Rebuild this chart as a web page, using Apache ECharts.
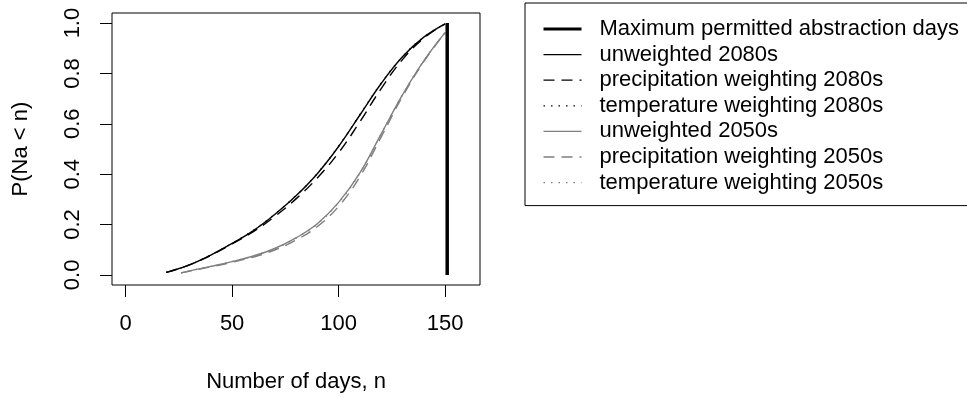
<!DOCTYPE html>
<html><head><meta charset="utf-8">
<script src="https://cdn.jsdelivr.net/npm/echarts@6/dist/echarts.min.js"></script>
<style>html,body{margin:0;padding:0;background:#fff}#c{width:967px;height:398px}</style>
</head><body><div id="c"></div>
<script>
// ---- data ----
const xTicks = [0, 50, 100, 150];
const yTicks = [0, 0.2, 0.4, 0.6, 0.8, 1.0];
const maxDays = 151;
const maxLine = [0, 1];

const days2080 = [19, 20, 30, 40, 50, 60, 70, 80, 90, 100, 110, 120, 130, 140, 150];
const unweighted2080 = [0.010, 0.012, 0.040, 0.079, 0.125, 0.176, 0.240, 0.314, 0.402, 0.510, 0.635, 0.760, 0.866, 0.944, 0.997];
const precip2080 =     [0.010, 0.012, 0.040, 0.078, 0.123, 0.172, 0.232, 0.302, 0.385, 0.485, 0.608, 0.740, 0.855, 0.940, 0.997];
const temp2080 =       [0.010, 0.012, 0.040, 0.079, 0.126, 0.177, 0.241, 0.315, 0.403, 0.511, 0.636, 0.761, 0.866, 0.944, 0.997];

const days2050 = [26, 30, 40, 50, 60, 70, 80, 90, 100, 110, 120, 130, 140, 150];
const unweighted2050 = [0.008, 0.016, 0.034, 0.053, 0.075, 0.105, 0.147, 0.203, 0.288, 0.405, 0.560, 0.715, 0.850, 0.962];
const precip2050 =     [0.008, 0.015, 0.032, 0.050, 0.071, 0.099, 0.138, 0.192, 0.272, 0.390, 0.548, 0.708, 0.847, 0.962];
const temp2050 =       [0.008, 0.016, 0.034, 0.053, 0.075, 0.104, 0.146, 0.202, 0.287, 0.404, 0.560, 0.715, 0.850, 0.962];

const names = [
  'Maximum permitted abstraction days',
  'unweighted 2080s', 'precipitation weighting 2080s', 'temperature weighting 2080s',
  'unweighted 2050s', 'precipitation weighting 2050s', 'temperature weighting 2050s'
];

// ---- build ----
const FONT = 'Liberation Sans, Arial, Helvetica, sans-serif';
const FS = 22;
const BLACK = '#000000', GRAY = '#7f7f7f';
const DASH = [11, 7], DOT = [1.5, 6];
const pair = (xs, ys) => xs.map((x, i) => [x, ys[i]]);
const curve = (name, xs, ys, color, type) => ({
  name, type: 'line', data: pair(xs, ys), showSymbol: false, symbol: 'none',
  smooth: 0.4, z: 2,
  lineStyle: { color, width: 1.4, type }, itemStyle: { color }
});

const chart = echarts.init(document.getElementById('c'), null, { renderer: 'canvas' });
chart.setOption({
  animation: false,
  backgroundColor: '#ffffff',
  textStyle: { fontFamily: FONT, color: '#000' },
  grid: { left: 112, top: 13, width: 368, height: 277, show: true, borderColor: '#000', borderWidth: 1, backgroundColor: 'transparent' },
  xAxis: {
    type: 'value', min: -6.4, max: 166.4,
    name: 'Number of days, n', nameLocation: 'middle', nameGap: 86,
    nameTextStyle: { fontSize: FS, color: '#000', fontFamily: FONT },
    axisLine: { show: false, onZero: false },
    axisTick: { show: true, length: 12, customValues: xTicks, lineStyle: { color: '#000', width: 1 } },
    axisLabel: { customValues: xTicks, fontSize: FS, color: '#000', margin: 28, fontFamily: FONT },
    splitLine: { show: false }
  },
  yAxis: {
    type: 'value', min: -0.04, max: 1.04,
    name: 'P(Na < n)', nameLocation: 'middle', nameGap: 80, nameRotate: 90,
    nameTextStyle: { fontSize: FS, color: '#000', fontFamily: FONT },
    axisLine: { show: false, onZero: false },
    axisTick: { show: true, length: 12, customValues: yTicks, lineStyle: { color: '#000', width: 1 } },
    axisLabel: { customValues: yTicks, rotate: 90, fontSize: FS, color: '#000', margin: 28, fontFamily: FONT,
      formatter: v => v.toFixed(1) },
    splitLine: { show: false }
  },
  legend: {
    data: names.map((n, i) => ({ name: n, lineStyle: { width: i === 0 ? 3 : 1.3 } })),
    orient: 'vertical', left: 525, top: 3,
    padding: [15, 20, 12, 17], itemGap: 3.6, itemWidth: 38, itemHeight: 14,
    borderColor: '#000', borderWidth: 1, borderRadius: 0,
    itemStyle: { opacity: 0 },
    textStyle: { fontSize: FS, color: '#000', fontFamily: FONT, padding: [0, 0, 0, 13], lineHeight: 22 },
    selectedMode: false
  },
  series: [
    curve(names[6], days2050, temp2050, GRAY, DOT),
    curve(names[5], days2050, precip2050, GRAY, DASH),
    curve(names[4], days2050, unweighted2050, GRAY, 'solid'),
    curve(names[3], days2080, temp2080, BLACK, DOT),
    curve(names[2], days2080, precip2080, BLACK, DASH),
    curve(names[1], days2080, unweighted2080, BLACK, 'solid'),
    { name: names[0], type: 'line', data: maxLine.map(v => [maxDays, v]), showSymbol: false, symbol: 'none', z: 3,
      lineStyle: { color: BLACK, width: 3.5 }, itemStyle: { color: BLACK } }
  ]
});
</script></body></html>
